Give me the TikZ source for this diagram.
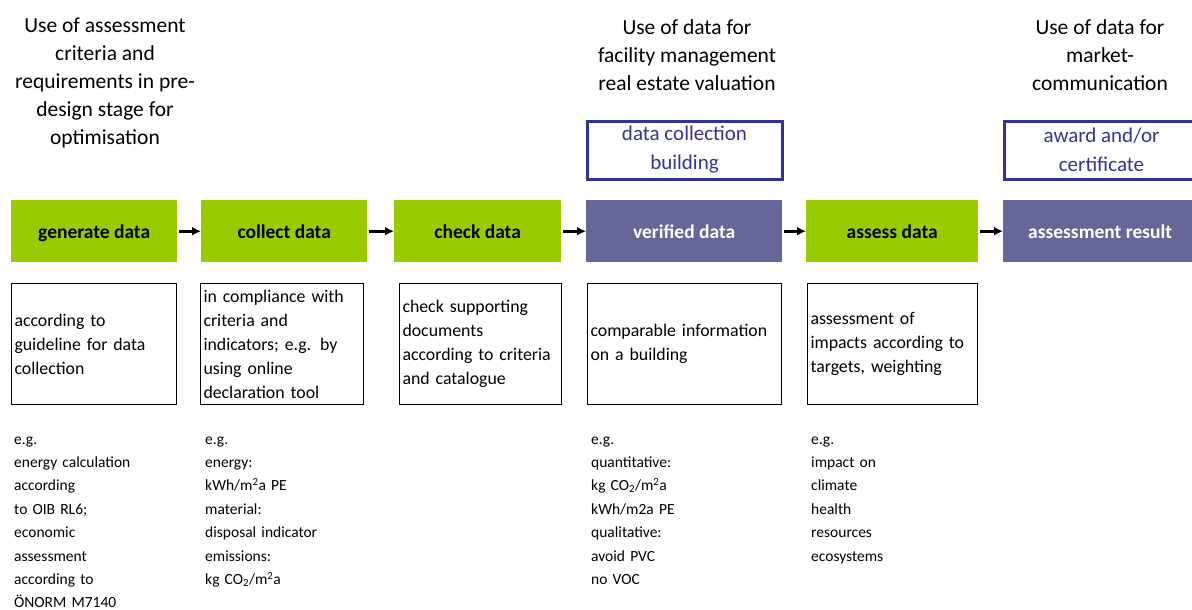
\documentclass[tikz,border=0pt]{standalone}
\usepackage{fontspec}
\setmainfont{Carlito}
\usetikzlibrary{arrows.meta,positioning}

\definecolor{stepgreen}{HTML}{99CC00}
\definecolor{steppurple}{HTML}{666699}
\definecolor{useblue}{HTML}{333399}

\tikzset{
  stepbox/.style={anchor=north west, inner sep=0pt, minimum height=62pt,
    text height=15pt, text depth=1pt, font=\fontsize{19.5}{22}\selectfont\bfseries},
  greenbox/.style={stepbox, fill=stepgreen, text=black},
  purplebox/.style={stepbox, fill=steppurple, text=white},
  notebox/.style={draw=black, line width=1pt, anchor=north west, inner xsep=3pt,
    inner ysep=0pt, minimum height=121pt, align=left,
    font=\fontsize{17.8}{24}\selectfont},
  usebox/.style={draw=useblue, line width=3pt, text=useblue, inner sep=0pt,
    anchor=north west, minimum height=58pt, align=center,
    font=\fontsize{21}{29}\selectfont},
  headtext/.style={align=center, inner sep=0pt, font=\fontsize{21.5}{28}\selectfont},
  egtext/.style={anchor=base west, inner sep=0pt, align=left, text width=175pt,
    font=\fontsize{15.5}{23.4}\selectfont},
  flow/.style={-{Latex[length=9pt,width=9pt]}, line width=3pt, shorten <=2pt}
}

\begin{document}
\begin{tikzpicture}[x=1pt,y=-1pt]
\useasboundingbox (0,0) rectangle (1192,610);

% draw headings on top
\node[headtext] (usecrit) at (105,83) {Use of assessment\\ criteria and\\
  requirements in pre-\\ design stage for\\ optimisation};
\node[headtext] (usefm) at (687,55) {Use of data for\\ facility management\\
  real estate valuation};
\node[headtext] (usemc) at (1100,55) {Use of data for\\ market-\\ communication};

% draw blue framed boxes
\node[usebox, minimum width=195pt] (dcoll) at (585.5,119.5) {data collection\\ building};
\node[usebox, minimum width=195pt] (award) at (1002.5,119.5) {award and/or\\ certificate};

% draw process steps
\node[greenbox, minimum width=166pt] (gen) at (11,200) {generate data};
\node[greenbox, minimum width=166pt] (col) at (201,200) {collect data};
\node[greenbox, minimum width=167pt] (chk) at (394,200) {check data};
\node[purplebox, minimum width=196pt] (ver) at (586,200) {verified data};
\node[greenbox, minimum width=172pt] (ass) at (806,200) {assess data};
\node[purplebox, minimum width=194pt] (res) at (1003,200) {assessment result};

% draw arrows between steps
\foreach \a/\b in {gen/col,col/chk,chk/ver,ver/ass,ass/res}
\draw[flow] (\a) -- (\b);

% draw boxes with descriptions
\node[notebox, text width=159pt] (gennote) at (11,283) {according to\\
  guideline for data\\ collection};
\node[notebox, text width=157pt] (colnote) at (200,283) {in compliance with\\
  criteria and\\ indicators; e.g. by\\ using online\\ declaration tool};
\node[notebox, text width=156pt] (chknote) at (399,283) {check supporting\\
  documents\\ according to criteria\\ and catalogue};
\node[notebox, text width=188pt] (vernote) at (587,283) {comparable information\\
  on a building};
\node[notebox, text width=164pt] (assnote) at (807,283) {assessment of\\
  impacts according to\\ targets, weighting};

% draw examples below
\node[egtext] (genex) at (14,444) {e.g.\\ energy calculation\\ according\\
  to OIB RL6;\\ economic\\ assessment\\ according to\\ ÖNORM M7140};
\node[egtext] (colex) at (205,444) {e.g.\\ energy:\\ kWh/m\textsuperscript{2}a PE\\
  material:\\ disposal indicator\\ emissions:\\ kg CO\textsubscript{2}/m\textsuperscript{2}a};
\node[egtext] (verex) at (591,444) {e.g.\\ quantitative:\\
  kg CO\textsubscript{2}/m\textsuperscript{2}a\\ kWh/m2a PE\\ qualitative:\\
  avoid PVC\\ no VOC};
\node[egtext] (assex) at (811,444) {e.g.\\ impact on\\ climate\\ health\\
  resources\\ ecosystems};
\end{tikzpicture}
\end{document}
